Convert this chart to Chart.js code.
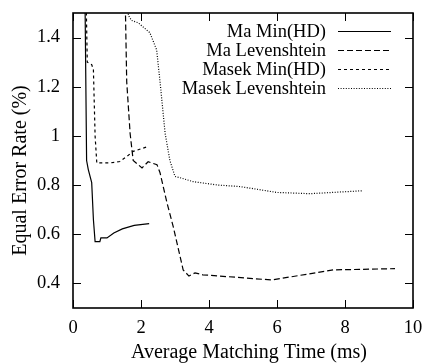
<!DOCTYPE html>
<html>
<head>
<meta charset="utf-8">
<script src="https://cdn.jsdelivr.net/npm/chart.js@4"></script>
<style>
  html, body { margin: 0; padding: 0; background: #fff; }
</style>
</head>
<body>
<canvas id="eerChart" width="427" height="364"></canvas>
<script>
// series names (legend order)
const seriesNames = ['Ma Min(HD)', 'Ma Levenshtein', 'Masek Min(HD)', 'Masek Levenshtein'];

// Ma Min(HD)
const maMinX = [0.35, 0.40, 0.45, 0.55, 0.60, 0.65, 0.79, 0.82, 1.00, 1.20, 1.45, 1.80, 2.24];
const maMinY = [1.60, 0.90, 0.863, 0.81, 0.66, 0.57, 0.57, 0.585, 0.585, 0.605, 0.622, 0.636, 0.643];

// Ma Levenshtein
const maLevX = [1.53, 1.58, 1.68, 1.77, 2.03, 2.21, 2.47, 2.56, 2.76, 2.95, 3.24, 3.41, 3.59, 3.82, 5.85, 7.65, 9.47];
const maLevY = [1.60, 1.22, 1.01, 0.90, 0.87, 0.895, 0.883, 0.85, 0.73, 0.63, 0.455, 0.43, 0.443, 0.435, 0.414, 0.455, 0.46];

// Masek Min(HD)
const masekMinX = [0.38, 0.42, 0.55, 0.60, 0.65, 0.70, 1.09, 1.38, 1.58, 1.77, 2.21];
const masekMinY = [1.60, 1.30, 1.29, 1.27, 1.00, 0.89, 0.89, 0.896, 0.916, 0.937, 0.957];

// Masek Levenshtein
const masekLevX = [1.60, 1.63, 1.72, 1.92, 2.26, 2.46, 2.56, 2.71, 2.85, 3.00, 3.15, 3.53, 4.27, 4.91, 6.00, 6.97, 8.53];
const masekLevY = [1.55, 1.49, 1.47, 1.46, 1.42, 1.35, 1.22, 1.01, 0.90, 0.835, 0.83, 0.814, 0.80, 0.794, 0.77, 0.765, 0.777];

// axis ticks and titles
const xTicks = [0, 2, 4, 6, 8, 10];
const yTicks = [0.4, 0.6, 0.8, 1, 1.2, 1.4];
const xTitle = 'Average Matching Time (ms)';
const yTitle = 'Equal Error Rate (%)';

const serif = 'Liberation Serif';
const toPts = (xs, ys) => xs.map((x, i) => ({ x: x, y: ys[i] }));

function makeSet(label, xs, ys, dash) {
  return {
    label: label,
    data: toPts(xs, ys),
    borderColor: '#000',
    borderWidth: 1.2,
    borderDash: dash,
    pointRadius: 0,
    tension: 0,
    fill: false
  };
}

// gnuplot style frame with inward ticks on all four sides, plus axis titles
const framePlugin = {
  id: 'frame',
  afterDraw(chart) {
    const { ctx, chartArea: a, scales: { x, y } } = chart;
    ctx.save();
    ctx.strokeStyle = '#000';
    ctx.lineWidth = 1;
    ctx.setLineDash([]);
    ctx.beginPath();
    xTicks.forEach(v => {
      const px = Math.round(x.getPixelForValue(v)) + 0.5;
      ctx.moveTo(px, a.bottom); ctx.lineTo(px, a.bottom - 8);
      ctx.moveTo(px, a.top); ctx.lineTo(px, a.top + 8);
    });
    yTicks.forEach(v => {
      const py = Math.round(y.getPixelForValue(v)) + 0.5;
      ctx.moveTo(a.left, py); ctx.lineTo(a.left + 8, py);
      ctx.moveTo(a.right, py); ctx.lineTo(a.right - 8, py);
    });
    ctx.stroke();
    ctx.lineWidth = 1.6;
    ctx.strokeRect(a.left, a.top, a.right - a.left, a.bottom - a.top);

    // axis titles (gnuplot puts them slightly off-centre)
    ctx.fillStyle = '#000';
    ctx.font = '20px "' + serif + '"';
    ctx.textAlign = 'center';
    ctx.textBaseline = 'alphabetic';
    ctx.fillText(xTitle, (a.left + a.right) / 2 + 6, chart.height - 6);
    ctx.translate(26, (a.top + a.bottom) / 2 + 10);
    ctx.rotate(-Math.PI / 2);
    ctx.fillText(yTitle, 0, 0);
    ctx.restore();
  }
};

// legend inside the plot: right-aligned text, line sample on the right
const keyPlugin = {
  id: 'key',
  afterDraw(chart) {
    const { ctx, chartArea: a } = chart;
    ctx.save();
    ctx.font = '18.5px "' + serif + '"';
    ctx.fillStyle = '#000';
    ctx.textAlign = 'right';
    ctx.textBaseline = 'middle';
    chart.data.datasets.forEach((ds, i) => {
      const yy = a.top + 18 + i * 19;
      ctx.fillText(ds.label, a.right - 87, yy + 1);
      ctx.strokeStyle = '#000';
      ctx.lineWidth = 1.2;
      ctx.setLineDash(ds.borderDash);
      ctx.beginPath();
      ctx.moveTo(a.right - 75, yy + 0.5);
      ctx.lineTo(a.right - 22, yy + 0.5);
      ctx.stroke();
    });
    ctx.restore();
  }
};

new Chart(document.getElementById('eerChart'), {
  type: 'line',
  data: {
    datasets: [
      makeSet(seriesNames[0], maMinX, maMinY, []),
      makeSet(seriesNames[1], maLevX, maLevY, [6, 3]),
      makeSet(seriesNames[2], masekMinX, masekMinY, [3, 3]),
      makeSet(seriesNames[3], masekLevX, masekLevY, [1, 1.6])
    ]
  },
  options: {
    responsive: false,
    animation: false,
    layout: { padding: { top: 13, right: 14, left: 0, bottom: 0 } },
    plugins: {
      legend: { display: false },
      tooltip: { enabled: false }
    },
    scales: {
      x: {
        type: 'linear', min: 0, max: 10,
        afterBuildTicks: s => { s.ticks = xTicks.map(v => ({ value: v })); },
        afterFit: s => { s.height = 56; s.paddingLeft = 0; s.paddingRight = 0; },
        grid: { display: false, drawTicks: false },
        border: { display: false },
        ticks: { color: '#000', padding: 9, font: { family: serif, size: 18.5 } }
      },
      y: {
        type: 'linear', min: 0.3, max: 1.5,
        afterBuildTicks: s => { s.ticks = yTicks.map(v => ({ value: v })); },
        afterFit: s => { s.width = 73; s.paddingTop = 0; s.paddingBottom = 0; },
        grid: { display: false, drawTicks: false },
        border: { display: false },
        ticks: { color: '#000', padding: 13, font: { family: serif, size: 18.5 }, callback: v => String(+v.toFixed(1)) }
      }
    }
  },
  plugins: [framePlugin, keyPlugin]
});
</script>
</body>
</html>
